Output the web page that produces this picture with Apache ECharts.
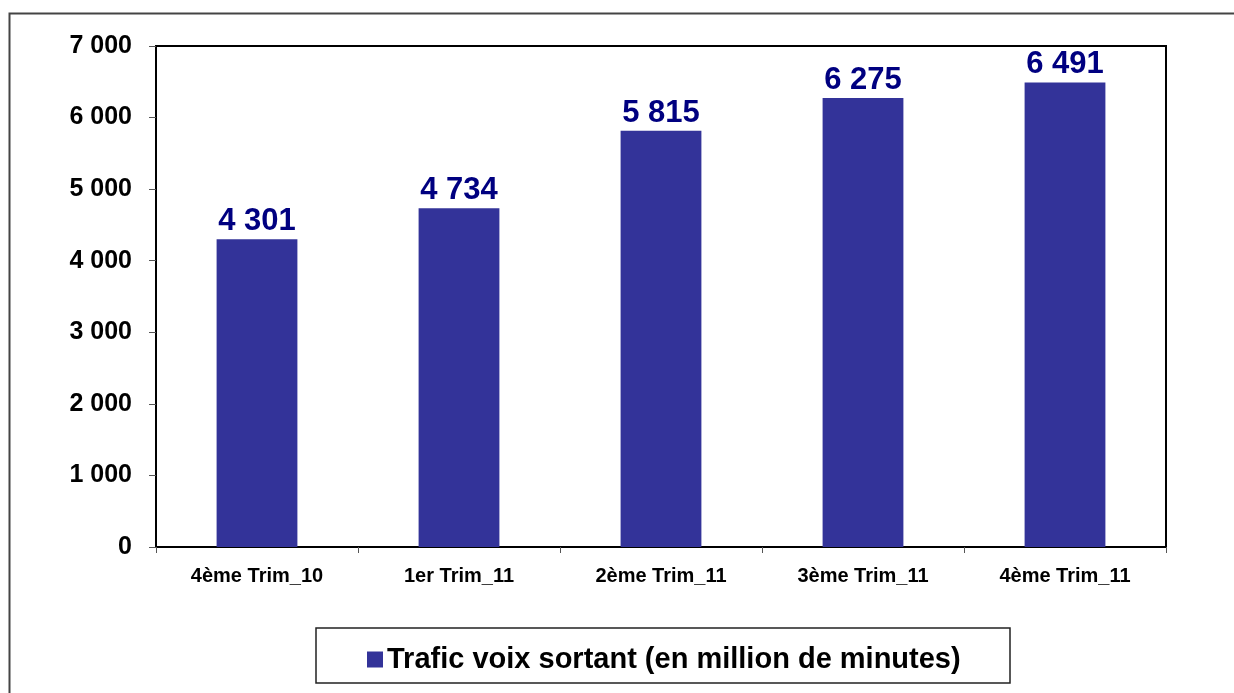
<!DOCTYPE html>
<html>
<head>
<meta charset="utf-8">
<script src="https://cdn.jsdelivr.net/npm/echarts@6/dist/echarts.min.js"></script>
<style>
html, body { margin: 0; padding: 0; background: #fff; }
#chart { width: 1234px; height: 693px; }
</style>
</head>
<body>
<div id="chart"></div>
<script>
// data
var categories = ['4ème Trim_10', '1er Trim_11', '2ème Trim_11', '3ème Trim_11', '4ème Trim_11'];
var traficValues = [4301, 4734, 5815, 6275, 6491];
var seriesName = 'Trafic voix sortant (en million de minutes)';

// "7 000" style with a space as thousands separator
function fmt(v) {
    return String(v).replace(/\B(?=(\d{3})+(?!\d))/g, ' ');
}

var myChart = echarts.init(document.getElementById('chart'));
myChart.setOption({
    animation: false,
    textStyle: { fontFamily: 'Liberation Sans, Arial, sans-serif' },
    graphic: [
        {
            type: 'rect',
            shape: { x: 9.5, y: 13.5, width: 1240, height: 700 },
            style: { fill: 'none', stroke: '#444', lineWidth: 2 },
            silent: true
        },
        {
            type: 'rect',
            shape: { x: 316, y: 628, width: 694, height: 55 },
            style: { fill: 'none', stroke: '#222', lineWidth: 1.5 },
            silent: true
        }
    ],
    grid: {
        left: 156,
        right: 68,
        top: 46,
        bottom: 146,
        show: true,
        borderColor: '#000',
        borderWidth: 2,
        containLabel: false
    },
    legend: {
        data: [seriesName],
        left: 362,
        top: 640,
        itemWidth: 16,
        itemHeight: 16,
        itemGap: 4,
        icon: 'rect',
        textStyle: { fontSize: 29, fontWeight: 'bold', color: '#000', padding: [0, 0, 0, -1] }
    },
    xAxis: {
        type: 'category',
        data: categories,
        axisLine: { show: true, lineStyle: { color: '#000', width: 2 } },
        axisTick: { show: true, length: 6, lineStyle: { color: '#555' } },
        axisLabel: { fontSize: 20, fontWeight: 'bold', color: '#000', margin: 19 },
        splitLine: { show: false }
    },
    yAxis: {
        type: 'value',
        min: 0,
        max: 7000,
        interval: 1000,
        axisLine: { show: true, lineStyle: { color: '#000', width: 2 } },
        axisTick: { show: true, length: 7, lineStyle: { color: '#555' } },
        axisLabel: { fontSize: 25, fontWeight: 'bold', color: '#000', margin: 24, formatter: fmt },
        splitLine: { show: false }
    },
    series: [
        {
            name: seriesName,
            type: 'bar',
            data: traficValues,
            barWidth: '40%',
            itemStyle: { color: '#333399' },
            label: {
                show: true,
                position: 'top',
                distance: 2,
                formatter: function (p) { return fmt(p.value); },
                fontSize: 31,
                fontWeight: 'bold',
                color: '#000080'
            }
        }
    ]
});
</script>
</body>
</html>
